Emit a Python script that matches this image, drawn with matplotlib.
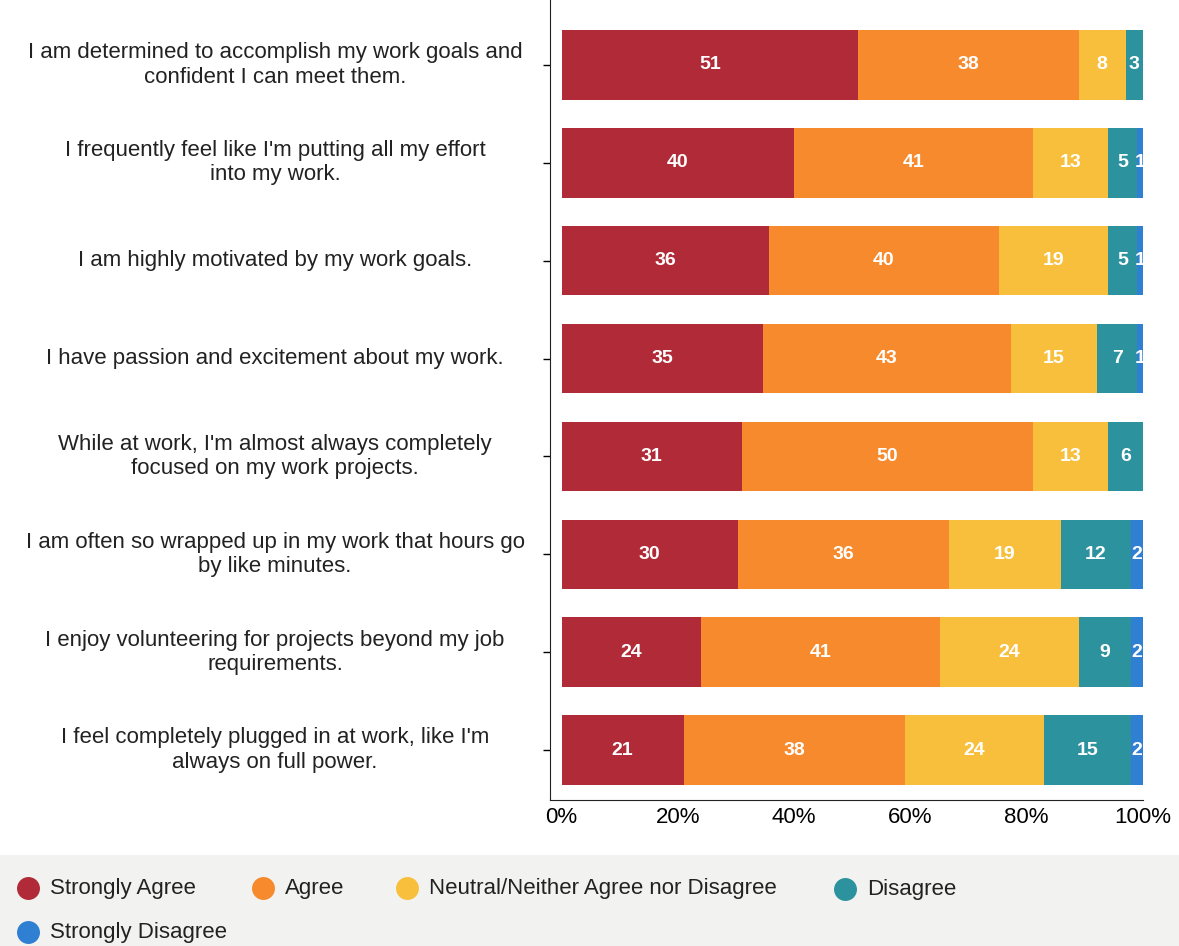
import numpy as np
import matplotlib
matplotlib.use("Agg")
import matplotlib.pyplot as plt
from matplotlib.transforms import blended_transform_factory

plt.rcParams['font.family'] = ['Liberation Sans', 'DejaVu Sans']

statements = [
    "I am determined to accomplish my work goals and\nconfident I can meet them.",
    "I frequently feel like I'm putting all my effort\ninto my work.",
    "I am highly motivated by my work goals.",
    "I have passion and excitement about my work.",
    "While at work, I'm almost always completely\nfocused on my work projects.",
    "I am often so wrapped up in my work that hours go\nby like minutes.",
    "I enjoy volunteering for projects beyond my job\nrequirements.",
    "I feel completely plugged in at work, like I'm\nalways on full power.",
]
responses = ["Strongly Agree", "Agree", "Neutral/Neither Agree nor Disagree",
             "Disagree", "Strongly Disagree"]
strongly_agree = [51, 40, 36, 35, 31, 30, 24, 21]
agree = [38, 41, 40, 43, 50, 36, 41, 38]
neutral = [8, 13, 19, 15, 13, 19, 24, 24]
disagree = [3, 5, 5, 7, 6, 12, 9, 15]
strongly_disagree = [0, 1, 1, 1, 0, 2, 2, 2]
colors = ["#b02a37", "#f68a2c", "#f8bf3c", "#2c929e", "#2f7fd3"]

values = np.array([strongly_agree, agree, neutral, disagree, strongly_disagree], float)
shares = values / values.sum(axis=0) * 100  # 100% stacked

W, H = 1179, 946
fig = plt.figure(figsize=(W / 100, H / 100), dpi=100)
ax = fig.add_axes([550 / W, 1 - 800 / H, (1143 - 550) / W, 800 / H])

y = np.arange(len(statements))
left = np.zeros(len(statements))
for k in range(len(responses)):
    ax.barh(y, shares[k], left=left, height=0.71, color=colors[k], linewidth=0)
    for i in range(len(statements)):
        if values[k, i] > 0:
            ax.text(left[i] + shares[k, i] / 2, y[i], f"{int(values[k, i])}",
                    ha="center", va="center", color="white",
                    fontsize=14, fontweight="bold")
    left += shares[k]

ax.set_xlim(-2, 100)
ax.set_ylim(len(statements) - 0.49, -0.664)
ax.set_xticks([0, 20, 40, 60, 80, 100])
ax.set_xticklabels(["0%", "20%", "40%", "60%", "80%", "100%"], fontsize=16)
ax.tick_params(axis="x", length=0, pad=5)
ax.set_yticks(y)
ax.set_yticklabels([])
ax.tick_params(axis="y", length=5, width=1)
for side in ["top", "right"]:
    ax.spines[side].set_visible(False)
for side in ["left", "bottom"]:
    ax.spines[side].set_color("#222222")

# statement labels centred to the left of the axis
trans = blended_transform_factory(fig.transFigure, ax.transData)
for i, s in enumerate(statements):
    ax.text(275 / W, y[i], s, transform=trans, ha="center", va="center",
            multialignment="center", fontsize=16, color="#222222", linespacing=1.2)

# legend strip
lg = fig.add_axes([0, 0, 1, 91 / H])
lg.set_xlim(0, W)
lg.set_ylim(946, 855)
lg.set_facecolor("#f2f2f0")
lg.set_xticks([])
lg.set_yticks([])
for sp in lg.spines.values():
    sp.set_visible(False)
legend_pos = [(28, 888), (263, 888), (407, 888), (845, 889), (28, 932)]
for (lx, ly), name, c in zip(legend_pos, responses, colors):
    lg.scatter([lx], [ly], s=240, color=c, zorder=3)
    lg.text(lx + 22, ly, name, ha="left", va="center", fontsize=16, color="#222222")

fig.savefig("out.png", dpi=100, facecolor="white")
